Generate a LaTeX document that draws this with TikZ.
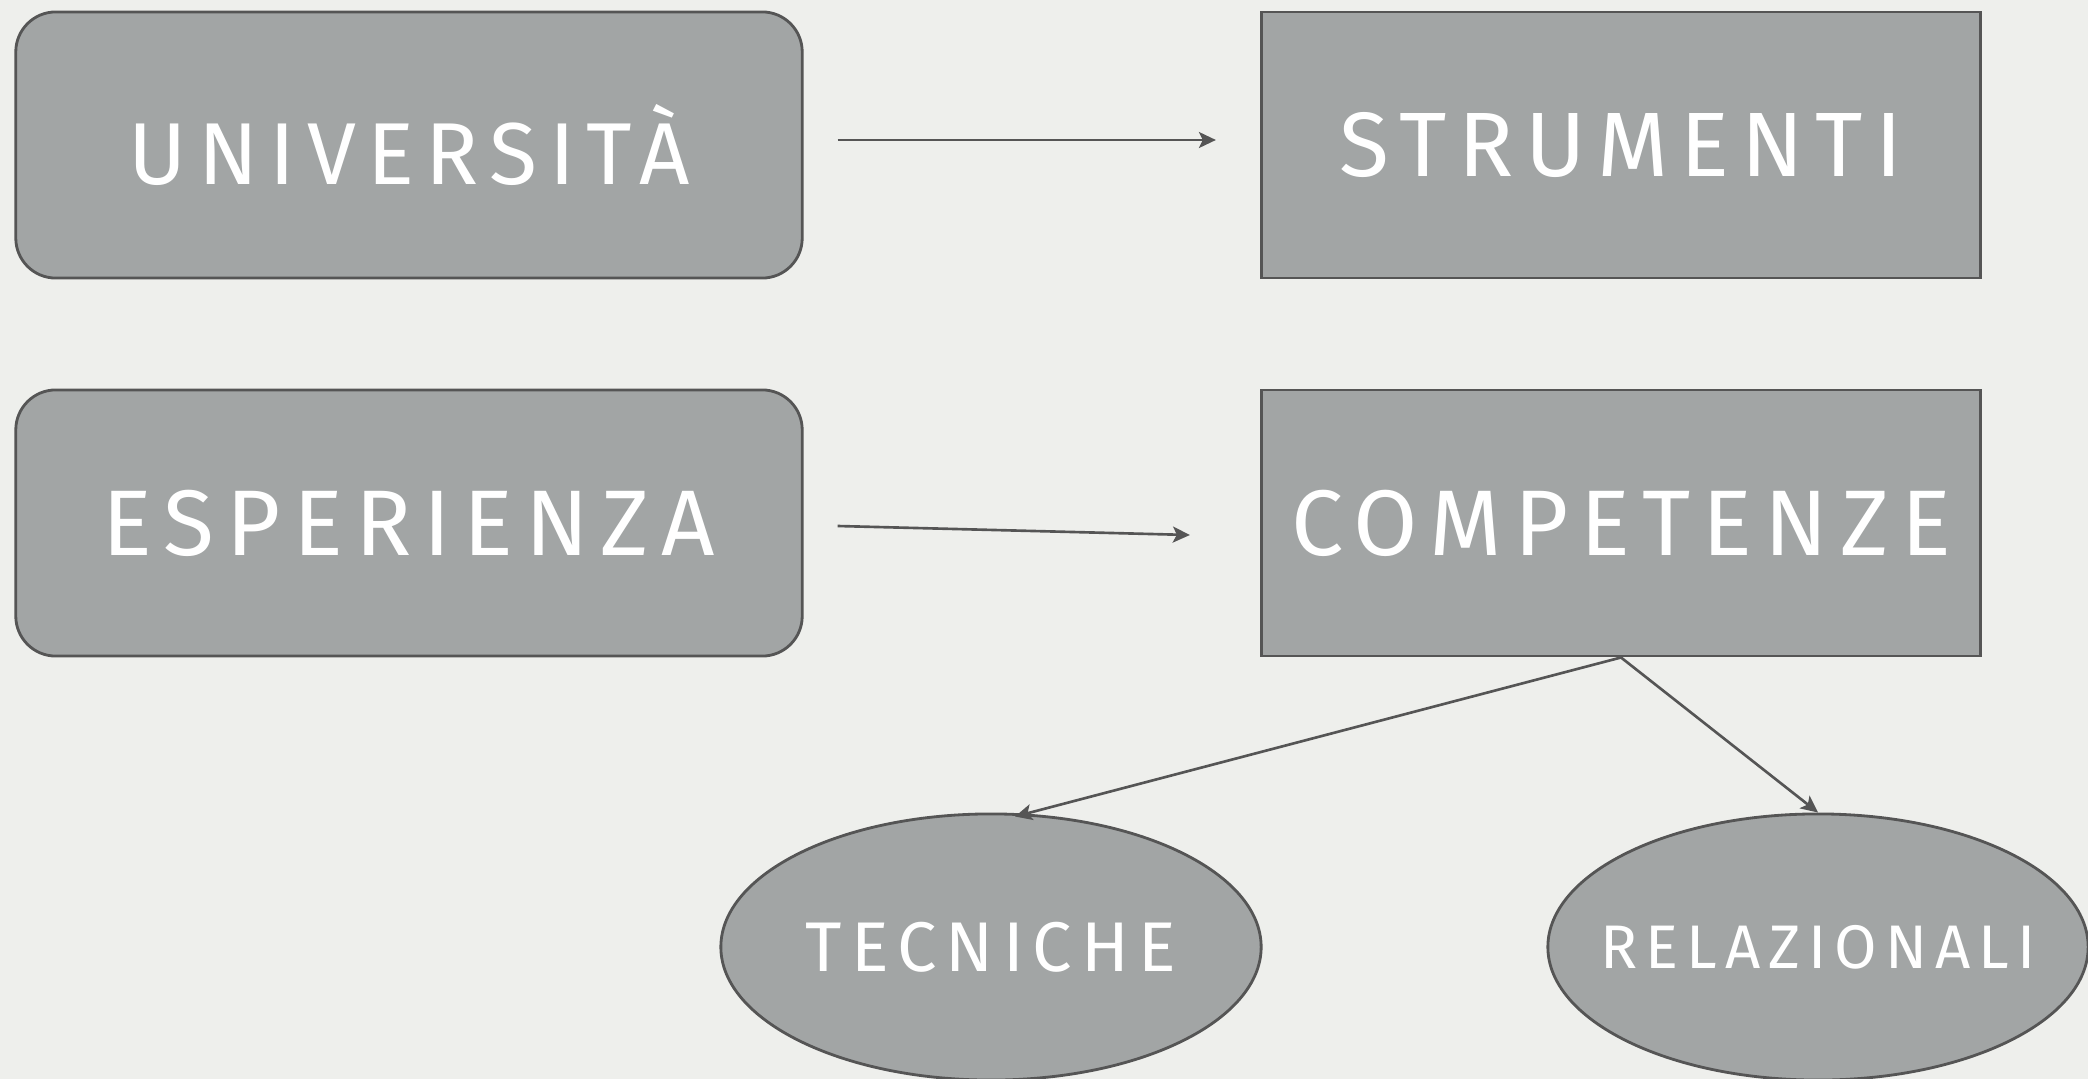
\documentclass[tikz,border=0pt]{standalone}
\usepackage{fontspec}
\setmainfont{Fira Sans}[LetterSpace=13]
\usetikzlibrary{arrows.meta,shapes.geometric}

\definecolor{paper}{HTML}{EEEFEC}
\definecolor{slate}{HTML}{A2A5A5}
\definecolor{edge}{HTML}{555555}

\tikzset{
  card/.style={draw=edge, fill=slate, line width=0.8pt, text=white,
    minimum height=2.66cm, inner sep=0pt},
  roundcard/.style={card, rounded corners=0.4cm, minimum width=7.86cm},
  flatcard/.style={card, minimum width=7.19cm},
  oval/.style={card, ellipse, minimum width=5.4cm, inner xsep=-0.3cm},
  link/.style={draw=edge, line width=0.75pt,
    -{Stealth[length=0.17cm,width=0.16cm,inset=0.04cm]}}
}

\begin{document}
\begin{tikzpicture}[x=0.01cm, y=-0.01cm]

% Page with its margins
\useasboundingbox[fill=paper] (0,0) rectangle (2088,1079);

% Left column
\node[roundcard, font=\fontsize{25}{30}\selectfont] (univ) at (409,145) {UNIVERSITÀ};
\node[roundcard, font=\fontsize{26.5}{31}\selectfont] (esper) at (409,523) {ESPERIENZA};

% Right column
\node[flatcard, font=\fontsize{26}{31}\selectfont] (strum) at (1621,145) {STRUMENTI};
\node[flatcard, font=\fontsize{26.5}{31}\selectfont] (compet) at (1621,523) {COMPETENZE};

% Two kinds of competence
\node[oval, font=\fontsize{20}{24}\selectfont] (tecn) at (991,947) {TECNICHE};
\node[oval, font=\fontsize{17.5}{21}\selectfont] (relaz) at (1818,947) {RELAZIONALI};

% Arrows
\draw[link] ([shift={(34,-5)}]univ.east) -- ([shift={(-44,-5)}]strum.west);
\draw[link] ([shift={(34,3)}]esper.east) -- ([shift={(-70,12)}]compet.west);
\draw[link] (compet.south) -- ([shift={(24,4)}]tecn.north);
\draw[link] (compet.south) -- (relaz.north);

\end{tikzpicture}
\end{document}
